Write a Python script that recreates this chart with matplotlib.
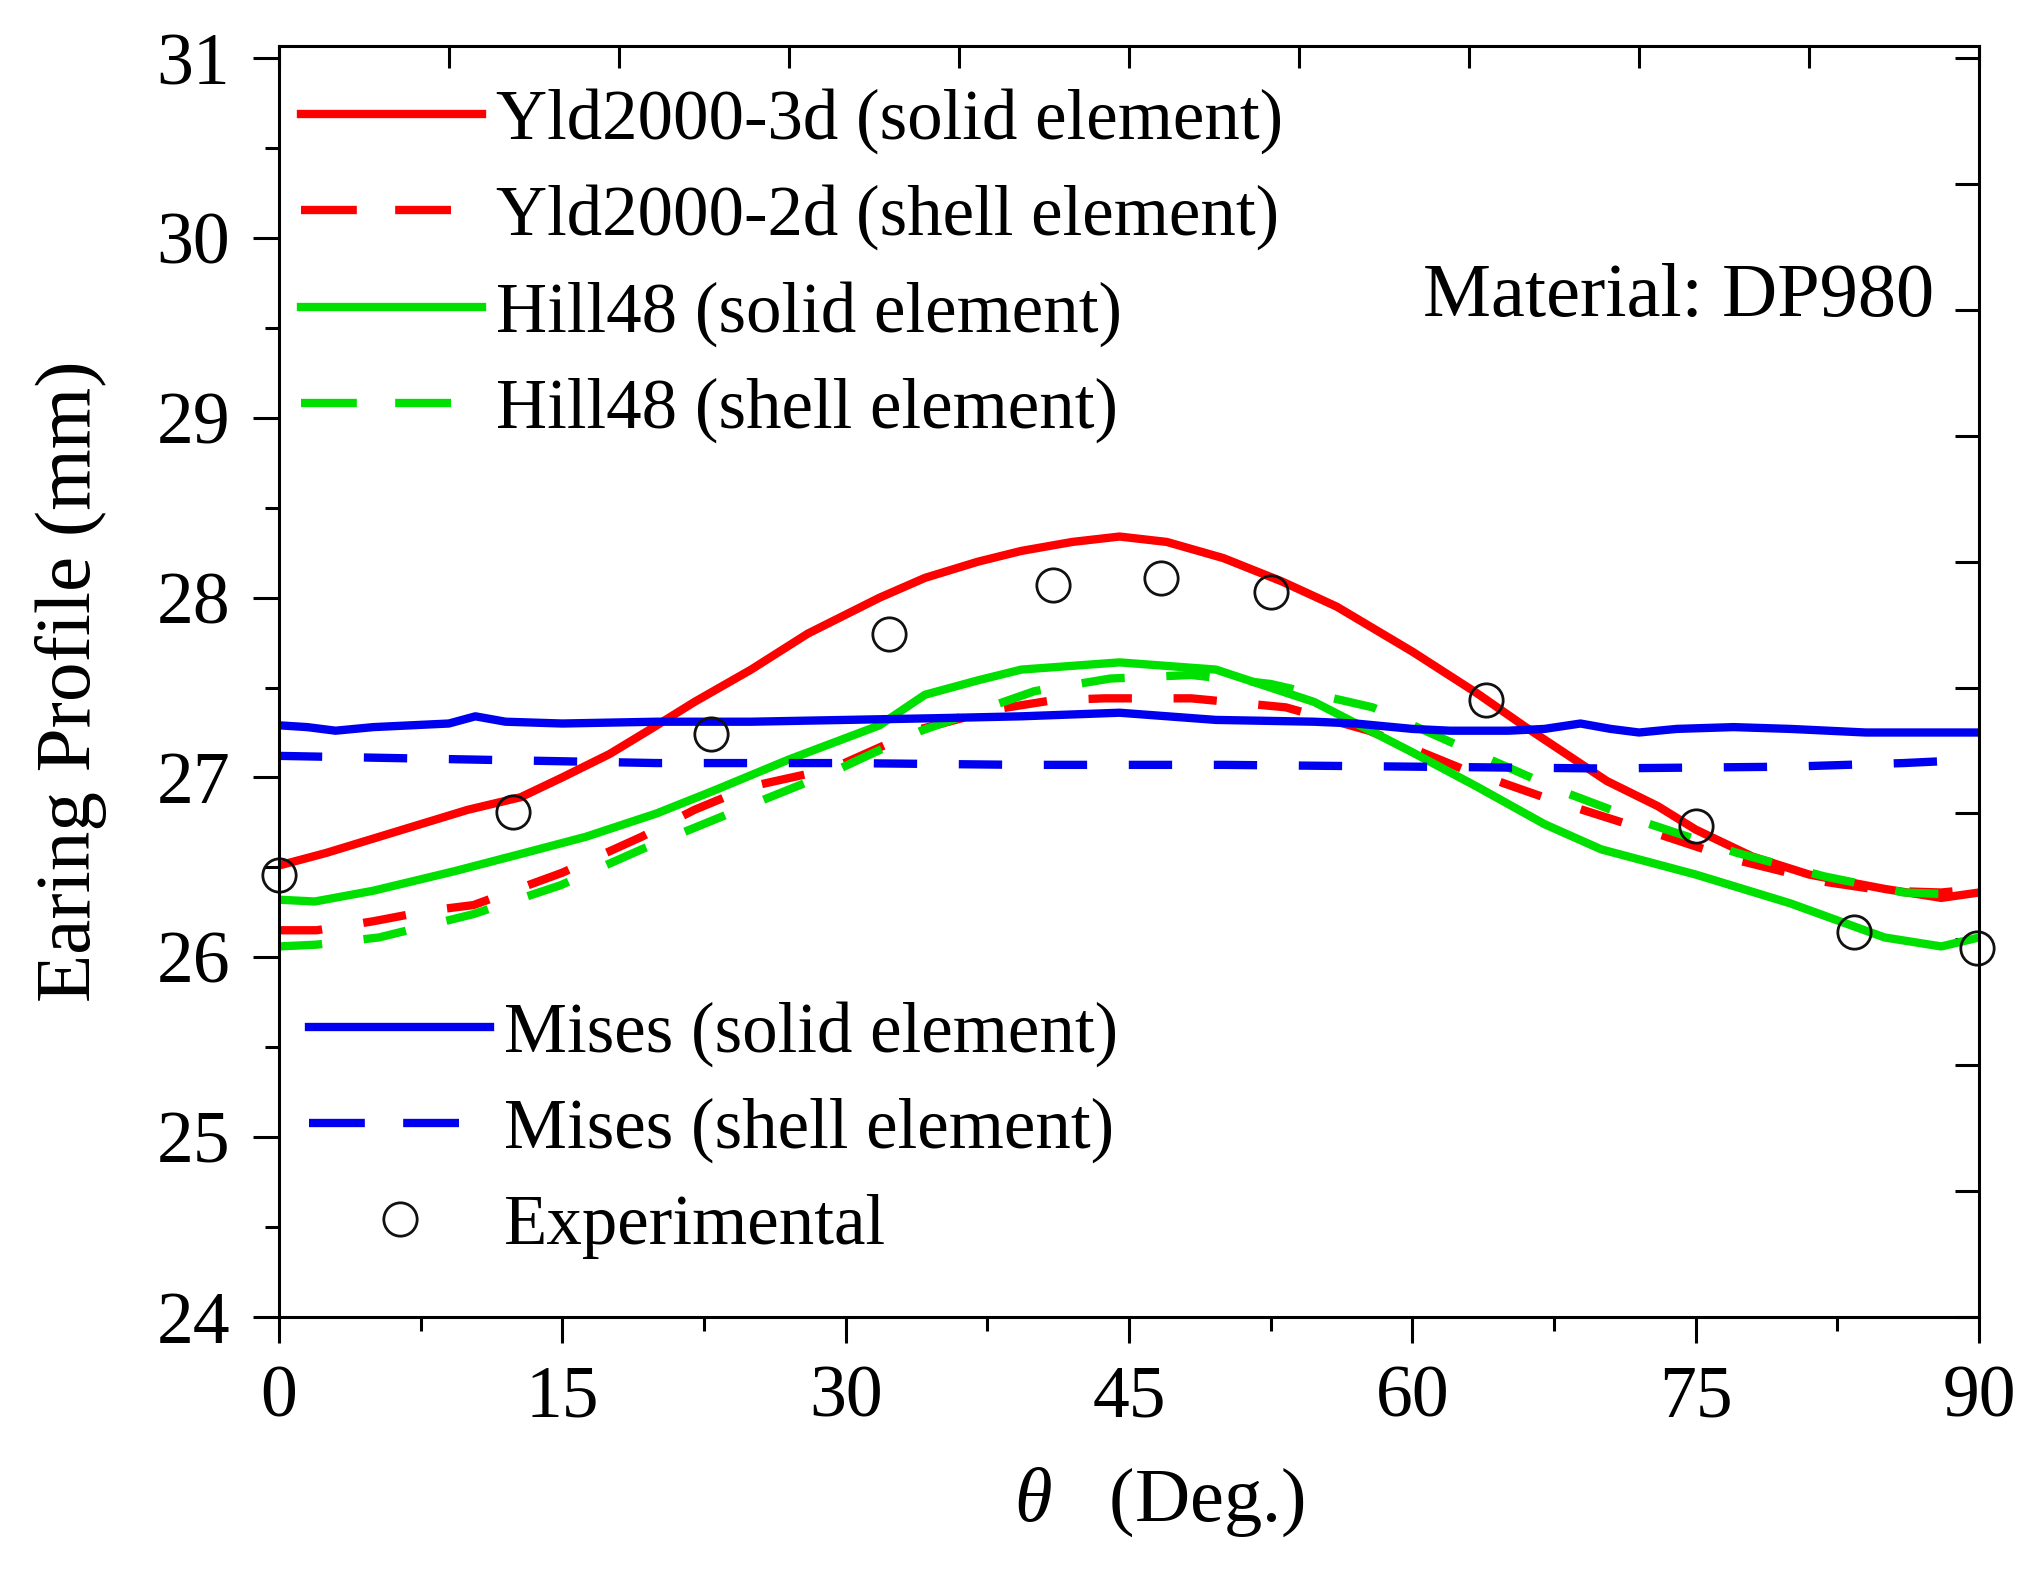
import numpy as np
import matplotlib.pyplot as plt
from matplotlib.lines import Line2D

plt.rcParams['font.family'] = ['Liberation Serif', 'DejaVu Serif']
plt.rcParams['mathtext.fontset'] = 'custom'
plt.rcParams['mathtext.it'] = 'Liberation Serif:italic'
plt.rcParams['mathtext.rm'] = 'Liberation Serif'

# Yld2000-3d solid element
x_y3d = [0, 2.5, 5, 7.5, 10, 12.8, 15, 17.5, 19.7, 22, 25, 28, 31.8, 34.2, 37, 39.3, 42, 44.5, 47, 50, 53.1, 56, 60, 63.4, 66, 70.3, 73, 75, 78, 81, 85, 88, 90]
y_y3d = [26.51, 26.58, 26.66, 26.74, 26.82, 26.89, 27.0, 27.13, 27.27, 27.42, 27.6, 27.8, 28.0, 28.11, 28.2, 28.26, 28.31, 28.34, 28.31, 28.22, 28.09, 27.95, 27.7, 27.47, 27.28, 26.98, 26.84, 26.71, 26.56, 26.46, 26.38, 26.33, 26.36]

# Yld2000-2d shell element
x_y2d = [0, 2, 5, 8, 10.3, 15, 19.2, 22, 25, 29.3, 34, 38, 41, 43.7, 48.3, 53.3, 57.7, 62.6, 67.5, 72.3, 77.2, 81.8, 85, 88, 90]
y_y2d = [26.15, 26.15, 26.2, 26.26, 26.29, 26.47, 26.67, 26.82, 26.95, 27.05, 27.27, 27.38, 27.43, 27.44, 27.44, 27.39, 27.26, 27.05, 26.87, 26.71, 26.54, 26.42, 26.37, 26.36, 26.38]

# Hill48 solid element
x_h_sol = [0, 1.9, 5, 9.35, 13, 16.25, 20, 23.1, 27, 31.8, 34.2, 37, 39.3, 44.5, 49.6, 54.8, 60, 63.4, 67, 70, 75, 80, 85, 88, 90]
y_h_sol = [26.32, 26.31, 26.37, 26.48, 26.58, 26.67, 26.8, 26.93, 27.1, 27.29, 27.46, 27.54, 27.6, 27.64, 27.6, 27.42, 27.14, 26.95, 26.74, 26.6, 26.46, 26.3, 26.11, 26.06, 26.11]

# Hill48 shell element
x_h_sh = [0, 2, 5.3, 10.3, 14.9, 19.2, 24.8, 29.3, 34, 40, 44, 48.3, 52.5, 57.9, 62.6, 68, 72.3, 77.2, 81.8, 86, 88.5]
y_h_sh = [26.06, 26.07, 26.11, 26.24, 26.4, 26.6, 26.84, 27.03, 27.26, 27.48, 27.55, 27.57, 27.52, 27.39, 27.17, 26.92, 26.75, 26.58, 26.45, 26.36, 26.35]

# Mises solid element
x_m_sol = [0, 1.5, 3, 5, 7, 9, 10.4, 12, 15, 20, 25, 30, 35, 39.3, 44.5, 49.6, 54.8, 57, 60, 62, 65.1, 67, 68.9, 70.5, 72, 74, 77, 80, 84, 87, 90]
y_m_sol = [27.29, 27.28, 27.26, 27.28, 27.29, 27.3, 27.34, 27.31, 27.3, 27.31, 27.31, 27.32, 27.33, 27.34, 27.36, 27.32, 27.31, 27.3, 27.27, 27.26, 27.26, 27.27, 27.3, 27.27, 27.25, 27.27, 27.28, 27.27, 27.25, 27.25, 27.25]

# Mises shell element
x_m_sh = [0, 5, 10, 20, 30, 39.3, 50, 60, 70, 80, 86, 88]
y_m_sh = [27.12, 27.11, 27.1, 27.08, 27.08, 27.07, 27.07, 27.06, 27.05, 27.06, 27.08, 27.09]

# Experimental
x_exp = [0, 12.4, 22.9, 32.3, 41.0, 46.7, 52.5, 63.9, 75.0, 83.4, 89.9]
y_exp = [26.46, 26.81, 27.24, 27.80, 28.07, 28.11, 28.03, 27.43, 26.73, 26.14, 26.05]

red = '#ff0000'
green = '#00e000'
blue = '#0000f0'
lw = 6.0
dash = (5.2, 5.0)
leg_dash = (0, (6.7, 4.6))

fig = plt.figure(figsize=(20.43, 15.77), dpi=100)
ax = fig.add_axes([0.1365, 0.165, 0.8322, 0.806])

l1, = ax.plot(x_y3d, y_y3d, color=red, lw=lw)
ax.plot(x_y2d, y_y2d, color=red, lw=lw, ls=(0, dash))
l3, = ax.plot(x_h_sol, y_h_sol, color=green, lw=lw)
ax.plot(x_h_sh, y_h_sh, color=green, lw=lw, ls=(0, dash))
l5, = ax.plot(x_m_sol, y_m_sol, color=blue, lw=lw)
ax.plot(x_m_sh, y_m_sh, color=blue, lw=lw, ls=(0, dash))
l7, = ax.plot(x_exp, y_exp, ls='none', marker='o', ms=24, mfc='none', mec='#111111', mew=2.0, clip_on=False)

# legend proxies for the dashed lines (longer dashes in the key)
l2 = Line2D([], [], color=red, lw=lw, ls=leg_dash)
l4 = Line2D([], [], color=green, lw=lw, ls=leg_dash)
l6 = Line2D([], [], color=blue, lw=lw, ls=leg_dash)

ax.set_xlim(0, 90)
ax.set_ylim(24, 31.07)
ax.set_xticks(np.arange(0, 91, 15))
ax.set_xticks(np.arange(7.5, 90, 15), minor=True)
ax.set_yticks(np.arange(24, 32, 1))
ax.set_yticks(np.arange(24.5, 31, 1), minor=True)
ax.tick_params(which='major', direction='out', length=19, width=2.2, labelsize=53)
ax.tick_params(axis='x', which='major', pad=16)
ax.tick_params(axis='y', which='major', pad=16)
ax.tick_params(which='minor', direction='out', length=10, width=2.2)
for s in ax.spines.values():
    s.set_linewidth(2.2)

top = ax.secondary_xaxis('top')
top.set_xticks(np.arange(0, 91, 9))
top.set_xticklabels([])
top.tick_params(direction='in', length=16, width=2.2)
right = ax.secondary_yaxis('right')
right.set_yticks(np.arange(24, 31.05, 0.7))
right.set_yticklabels([])
right.tick_params(direction='in', length=17, width=2.2)

ax.set_ylabel('Earing Profile (mm)', fontsize=57, labelpad=36)
ax.set_xlabel(r'$\theta$   (Deg.)', fontsize=55)
ax.xaxis.set_label_coords(0.518, -0.117)

ax.text(87.6, 29.67, 'Material: DP980', fontsize=55, ha='right', va='center')

leg1 = ax.legend([l1, l2, l3, l4],
                 ['Yld2000-3d (solid element)', 'Yld2000-2d (shell element)',
                  'Hill48 (solid element)', 'Hill48 (shell element)'],
                 loc='upper left', bbox_to_anchor=(0.013, 0.9665), frameon=False,
                 fontsize=51, handlelength=2.55, handletextpad=0.2,
                 labelspacing=0.43, borderpad=0, borderaxespad=0)
ax.add_artist(leg1)
ax.legend([l5, l6, l7],
          ['Mises (solid element)', 'Mises (shell element)', 'Experimental'],
          loc='upper left', bbox_to_anchor=(0.018, 0.248), frameon=False,
          fontsize=51, handlelength=2.55, handletextpad=0.2,
          labelspacing=0.43, borderpad=0, borderaxespad=0)

fig.savefig('out.png', dpi=100)
